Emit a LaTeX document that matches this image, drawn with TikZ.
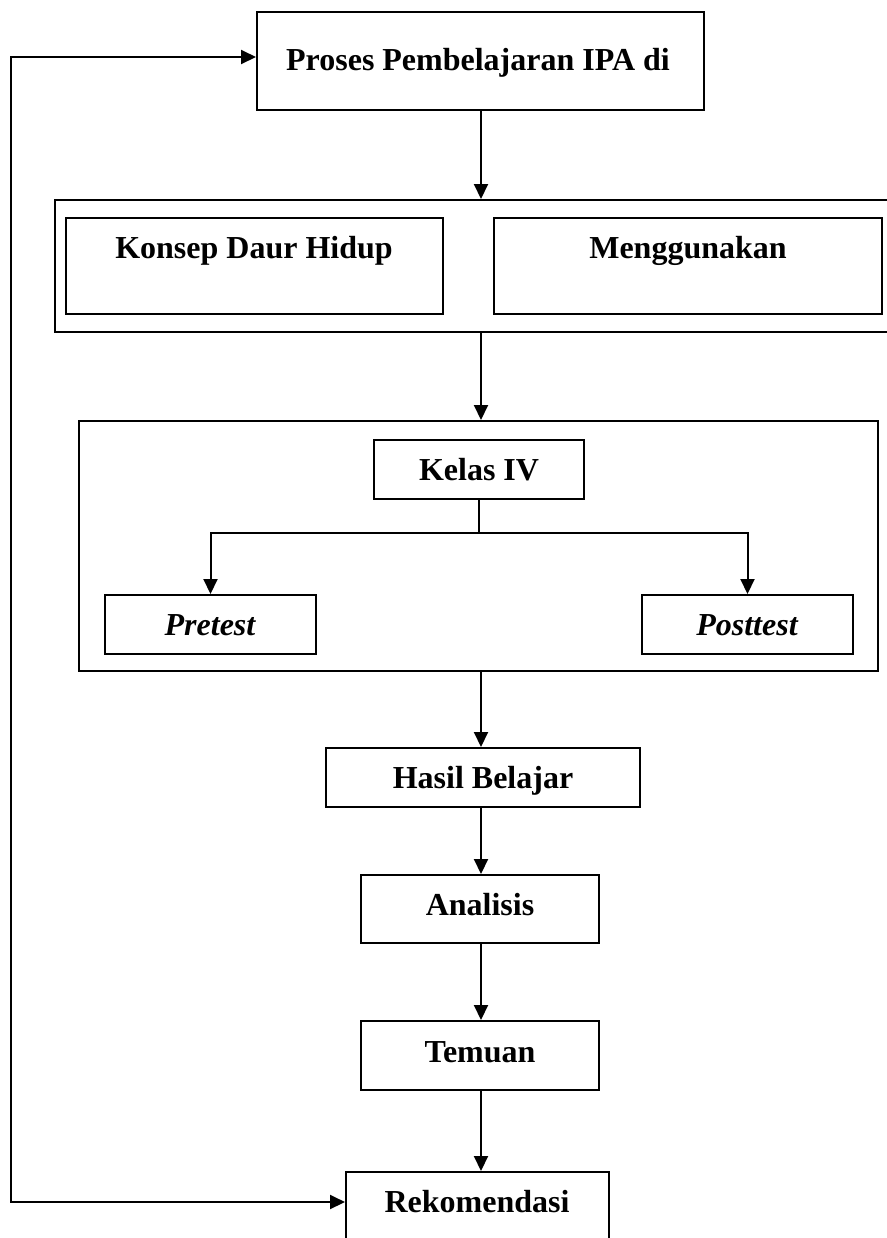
\documentclass[tikz,border=0pt]{standalone}
\usepackage{fontspec}
\setmainfont{Liberation Serif}
\usetikzlibrary{arrows.meta}
\begin{document}
\begin{tikzpicture}[x=0.5pt,y=-0.5pt,
  box/.style={draw, line width=1pt, inner sep=0pt, minimum width=#1},
  lbl/.style={anchor=base, inner sep=0pt, font=\bfseries\fontsize{16pt}{19pt}\selectfont},
  ilbl/.style={lbl, font=\bfseries\itshape\fontsize{16pt}{19pt}\selectfont},
  arr/.style={line width=1pt, -{Triangle[length=7.5pt,width=7pt]}},
  arrb/.style={line width=1pt, {Triangle[length=7.5pt,width=7pt]}-{Triangle[length=7.5pt,width=7pt]}},
  ln/.style={line width=1pt}]
\useasboundingbox (0,0) rectangle (887,1238);
% boxes
\node[box=223.5pt, minimum height=49pt] (top) at (480.5,61) {};
\node[box=418.5pt, minimum height=66pt] (outer1) at (473.5,266) {};
\node[box=188.5pt, minimum height=48pt] (konsep) at (254.5,266) {};
\node[box=194pt, minimum height=48pt] (mengg) at (688,266) {};
\node[box=399.5pt, minimum height=125pt] (box2) at (478.5,546) {};
\node[box=105pt, minimum height=29.5pt] (kelas) at (479,469.5) {};
\node[box=105.5pt, minimum height=29.5pt] (pre) at (210.5,624.5) {};
\node[box=105.5pt, minimum height=29.5pt] (post) at (747.5,624.5) {};
\node[box=157pt, minimum height=29.5pt] (hasil) at (483,777.5) {};
\node[box=119pt, minimum height=34pt] (anal) at (480,909) {};
\node[box=119pt, minimum height=34.5pt] (temu) at (480,1055.5) {};
\node[box=131.5pt, minimum height=44pt] (rekom) at (477.5,1216) {};
% labels
\node[lbl] (topT) at (478,70) {Proses Pembelajaran IPA di};
\node[lbl] (konsepT) at (254,258) {Konsep Daur Hidup};
\node[lbl] (menggT) at (688,258) {Menggunakan};
\node[lbl] (kelasT) at (479,480) {Kelas IV};
\node[ilbl] (preT) at (210,635) {Pretest};
\node[ilbl] (postT) at (747,635) {Posttest};
\node[lbl] (hasilT) at (483,788) {Hasil Belajar};
\node[lbl] (analT) at (480,915) {Analisis};
\node[lbl] (temuT) at (480,1062) {Temuan};
\node[lbl] (rekomT) at (477,1212) {Rekomendasi};
% connectors
\coordinate (axis) at (481,0);
\draw[arr] (top.south -| axis) -- (outer1.north -| axis);
\draw[arr] (outer1.south -| axis) -- (box2.north -| axis);
\coordinate (br) at (479,533);
\draw[ln] (kelas.south) -- (br);
\draw[arr] (br) -| (pre.north);
\draw[arr] (br) -| (post.north);
\draw[arr] (box2.south -| axis) -- (hasil.north -| axis);
\draw[arr] (hasil.south -| axis) -- (anal.north -| axis);
\draw[arr] (anal.south -| axis) -- (temu.north -| axis);
\draw[arr] (temu.south -| axis) -- (rekom.north -| axis);
\coordinate (fbt) at (11,57);
\coordinate (fbb) at (11,1202);
\draw[arrb] (fbt -| top.west) -- (fbt) -- (fbb) -- (fbb -| rekom.west);
\end{tikzpicture}
\end{document}
